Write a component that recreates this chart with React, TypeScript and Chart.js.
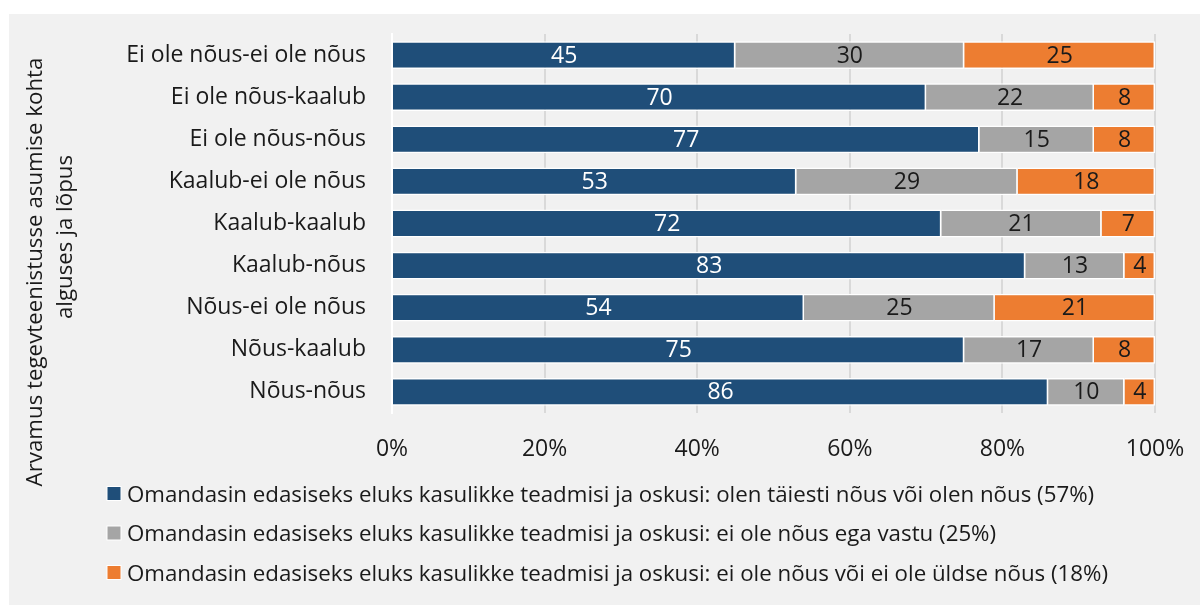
import React, { useEffect, useRef } from "react";
import { Chart, registerables } from "chart.js";

Chart.register(...registerables);

const categories = [
  "Ei ole nõus-ei ole nõus",
  "Ei ole nõus-kaalub",
  "Ei ole nõus-nõus",
  "Kaalub-ei ole nõus",
  "Kaalub-kaalub",
  "Kaalub-nõus",
  "Nõus-ei ole nõus",
  "Nõus-kaalub",
  "Nõus-nõus",
];

const agreeValues = [45, 70, 77, 53, 72, 83, 54, 75, 86];
const neutralValues = [30, 22, 15, 29, 21, 13, 25, 17, 10];
const disagreeValues = [25, 8, 8, 18, 7, 4, 21, 8, 4];

const seriesNames = [
  "Omandasin edasiseks eluks kasulikke teadmisi ja oskusi: olen täiesti nõus või olen nõus (57%)",
  "Omandasin edasiseks eluks kasulikke teadmisi ja oskusi: ei ole nõus ega vastu (25%)",
  "Omandasin edasiseks eluks kasulikke teadmisi ja oskusi: ei ole nõus või ei ole üldse nõus (18%)",
];

const xTicks = [0, 20, 40, 60, 80, 100];

const axisTitleLines = ["Arvamus tegevteenistusse asumise kohta", "alguses ja lõpus"];

const COLORS = ["#1f4e79", "#a5a5a5", "#ed7d31"];
const FONT_FAMILY = "'Open Sans', 'Noto Sans', sans-serif";
const FONT_SIZE = 23;
const SIDE_FONT_SIZE = 22.3;

const bgPlugin = {
  id: "bgPanel",
  beforeDraw(chart: any) {
    const { ctx, width, height } = chart;
    ctx.save();
    ctx.fillStyle = "#ffffff";
    ctx.fillRect(0, 0, width, height);
    ctx.fillStyle = "#f1f1f1";
    ctx.fillRect(9, 14, width - 9, height - 14);
    ctx.restore();
  },
};

const labelsPlugin = {
  id: "segLabels",
  afterDatasetsDraw(chart: any) {
    const { ctx } = chart;
    ctx.save();
    ctx.font = `${FONT_SIZE}px ${FONT_FAMILY}`;
    ctx.textAlign = "center";
    ctx.textBaseline = "middle";
    chart.data.datasets.forEach((ds: any, di: number) => {
      const meta = chart.getDatasetMeta(di);
      meta.data.forEach((el: any, i: number) => {
        const v = ds.data[i];
        const cx = (el.x + el.base) / 2;
        ctx.fillStyle = di === 0 ? "#ffffff" : "#1a1a1a";
        ctx.fillText(String(v), cx, el.y + 1);
      });
    });
    ctx.restore();
  },
};

const extrasPlugin = {
  id: "extras",
  afterDraw(chart: any) {
    const { ctx } = chart;
    ctx.save();
    // axis title
    ctx.font = `${SIDE_FONT_SIZE}px ${FONT_FAMILY}`;
    ctx.fillStyle = "#1a1a1a";
    ctx.textAlign = "center";
    ctx.textBaseline = "alphabetic";
    const titlePos = [
      { x: 42, y: 272 },
      { x: 72, y: 237 },
    ];
    axisTitleLines.forEach((t, i) => {
      ctx.save();
      ctx.translate(titlePos[i].x, titlePos[i].y);
      ctx.rotate(-Math.PI / 2);
      ctx.fillText(t, 0, 0);
      ctx.restore();
    });
    // legend
    const baselines = [501.5, 541, 580.5];
    seriesNames.forEach((name, i) => {
      const by = baselines[i];
      ctx.fillStyle = "#ffffff";
      ctx.fillRect(106.5, by - 15.5, 15, 15);
      ctx.fillStyle = COLORS[i];
      ctx.fillRect(107.5, by - 14.5, 13, 13);
      ctx.fillStyle = "#1a1a1a";
      ctx.textAlign = "left";
      ctx.fillText(name, 127, by);
    });
    ctx.restore();
  },
};

export default function App() {
  const ref = useRef<HTMLCanvasElement | null>(null);

  useEffect(() => {
    if (!ref.current) return;
    const font = { family: FONT_FAMILY, size: FONT_SIZE };
    const chart = new Chart(ref.current, {
      type: "bar",
      data: {
        labels: categories,
        datasets: [
          { label: seriesNames[0], data: agreeValues, backgroundColor: COLORS[0] },
          { label: seriesNames[1], data: neutralValues, backgroundColor: COLORS[1] },
          { label: seriesNames[2], data: disagreeValues, backgroundColor: COLORS[2] },
        ].map((d) => ({
          ...d,
          borderColor: "#ffffff",
          borderWidth: 1.5,
          barPercentage: 0.66,
          categoryPercentage: 1,
        })),
      },
      options: {
        indexAxis: "y",
        responsive: false,
        animation: false,
        layout: { padding: { top: 34, right: 45, bottom: 0, left: 0 } },
        scales: {
          x: {
            stacked: true,
            min: 0,
            max: 100,
            afterBuildTicks: (s: any) => {
              s.ticks = xTicks.map((v) => ({ value: v }));
            },
            afterFit: (s: any) => {
              s.height = 192;
              s.paddingLeft = 0;
              s.paddingRight = 0;
            },
            ticks: {
              font,
              color: "#1a1a1a",
              padding: 23,
              callback: (v: any) => `${v}%`,
              maxRotation: 0,
            },
            grid: { color: "#d9d9d9", lineWidth: 2, drawTicks: false },
            border: { display: false },
          },
          y: {
            stacked: true,
            afterFit: (s: any) => {
              s.width = 392;
              s.paddingTop = 0;
              s.paddingBottom = 0;
            },
            ticks: { font, color: "#1a1a1a", padding: 26 },
            grid: { display: false, drawTicks: false },
            border: { display: true, color: "#ffffff", width: 2 },
          },
        },
        plugins: {
          legend: { display: false },
          tooltip: { enabled: false },
        },
      },
      plugins: [bgPlugin, labelsPlugin, extrasPlugin],
    });
    return () => chart.destroy();
  }, []);

  return (
    <div style={{ position: "fixed", left: 0, top: 0, width: 1200, height: 605, background: "#fff" }}>
      <canvas ref={ref} width={1200} height={605} style={{ display: "block", width: 1200, height: 605 }} />
    </div>
  );
}
